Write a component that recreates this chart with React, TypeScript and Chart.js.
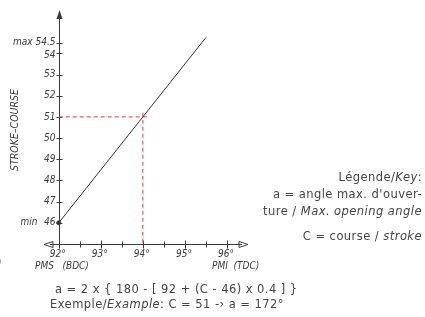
import React, { useEffect, useRef } from "react";
import { Chart, registerables } from "chart.js";

Chart.register(...registerables);

const strokeValues = [46, 47, 48, 49, 50, 51, 52, 53, 54, 54.5];
const angleTicks = [92, 92.5, 93, 93.5, 94, 94.5, 95, 95.5, 96];
const angleLabels = [92, 93, 94, 95, 96];
const lineAngles = [92, 95.5];
const lineStrokes = [46, 54.75];
const exampleStroke = 51;
const exampleAngle = 94;

const TICK_FONT = "italic 10px 'DejaVu Sans Condensed', 'Liberation Sans Narrow', 'DejaVu Sans', sans-serif";
const INK = "#3a3a3a";

const axesPlugin = {
  id: "drawnAxes",
  beforeDatasetsDraw(chart: any) {
    const ctx = chart.ctx;
    const xs = chart.scales.x;
    const ys = chart.scales.y;
    const ca = chart.chartArea;
    const x0 = Math.round(xs.getPixelForValue(92)) + 0.5;
    const y0 = Math.round(ys.getPixelForValue(45)) + 0.5;
    ctx.save();
    ctx.strokeStyle = INK;
    ctx.fillStyle = INK;
    ctx.lineWidth = 1;
    ctx.beginPath();
    ctx.moveTo(x0, y0);
    ctx.lineTo(x0, ca.top + 6);
    ctx.moveTo(ca.left + 6, y0);
    ctx.lineTo(ca.right - 6, y0);
    ctx.stroke();
    ctx.beginPath();
    ctx.moveTo(x0, ca.top - 1);
    ctx.lineTo(x0 - 3, ca.top + 8);
    ctx.lineTo(x0 + 3, ca.top + 8);
    ctx.closePath();
    ctx.fill();
    ctx.beginPath();
    ctx.moveTo(ca.right, y0);
    ctx.lineTo(ca.right - 9, y0 - 3);
    ctx.lineTo(ca.right - 9, y0 + 3);
    ctx.closePath();
    ctx.stroke();
    ctx.beginPath();
    ctx.moveTo(ca.left, y0);
    ctx.lineTo(ca.left + 9, y0 - 3);
    ctx.lineTo(ca.left + 9, y0 + 3);
    ctx.closePath();
    ctx.stroke();
    ctx.font = TICK_FONT;
    ctx.textAlign = "right";
    ctx.textBaseline = "middle";
    ctx.beginPath();
    strokeValues.forEach((v) => {
      const py = Math.round(ys.getPixelForValue(v)) + 0.5;
      ctx.moveTo(x0 - 3, py);
      ctx.lineTo(x0 + 3, py);
    });
    angleTicks.forEach((v) => {
      const px = Math.round(xs.getPixelForValue(v)) + 0.5;
      const h = Number.isInteger(v) ? 4 : 3;
      ctx.moveTo(px, y0 - h);
      ctx.lineTo(px, y0 + h);
    });
    ctx.stroke();
    strokeValues.forEach((v) => {
      const py = ys.getPixelForValue(v);
      const label = v === 54.5 ? "54.5" : String(v);
      ctx.fillText(label, x0 - 4, v === 54 ? py + 2 : py);
    });
    ctx.fillText("max", x0 - 27, ys.getPixelForValue(54.5));
    ctx.fillText("min", x0 - 22, ys.getPixelForValue(46));
    ctx.textAlign = "center";
    ctx.textBaseline = "top";
    angleLabels.forEach((v) => {
      ctx.fillText(v + "°", xs.getPixelForValue(v) - 1, y0 + 5);
    });
    ctx.textAlign = "left";
    ctx.fillText("PMS   (BDC)", 35, y0 + 17);
    ctx.fillText("PMI  (TDC)", 212, y0 + 17);
    ctx.save();
    ctx.translate(15, 130);
    ctx.rotate(-Math.PI / 2);
    ctx.textAlign = "center";
    ctx.textBaseline = "middle";
    ctx.font = "italic 10.5px 'DejaVu Sans Condensed', 'Liberation Sans Narrow', 'DejaVu Sans', sans-serif";
    ctx.fillText("STROKE–COURSE", 0, 0);
    ctx.restore();
    ctx.restore();
  },
};

export default function App() {
  const ref = useRef<HTMLCanvasElement>(null);
  useEffect(() => {
    const canvas = ref.current;
    if (!canvas) return;
    const chart = new Chart(canvas, {
      type: "scatter",
      data: {
        datasets: [
          {
            data: lineAngles.map((a, i) => ({ x: a, y: lineStrokes[i] })),
            showLine: true,
            borderColor: "#333",
            backgroundColor: "#333",
            borderWidth: 1,
            pointRadius: [2, 0],
            order: 0,
          },
          {
            data: [
              { x: 92, y: exampleStroke },
              { x: exampleAngle + 0.15, y: exampleStroke },
            ],
            showLine: true,
            borderColor: "#f25a5a",
            borderWidth: 1.2,
            borderDash: [4, 3],
            pointRadius: 0,
            order: 1,
          },
          {
            data: [
              { x: exampleAngle, y: exampleStroke + 0.2 },
              { x: exampleAngle, y: 45 },
            ],
            showLine: true,
            borderColor: "#f25a5a",
            borderWidth: 1.2,
            borderDash: [4, 3],
            pointRadius: 0,
            order: 1,
          },
        ],
      },
      options: {
        animation: false,
        responsive: false,
        layout: { padding: { left: 44, right: 177, top: 11, bottom: 73 } },
        plugins: { legend: { display: false }, tooltip: { enabled: false } },
        scales: {
          x: { type: "linear", min: 91.65, max: 96.5, display: false },
          y: { type: "linear", min: 45, max: 56, display: false },
        },
      },
      plugins: [axesPlugin],
    });
    return () => chart.destroy();
  }, []);

  const txt: React.CSSProperties = {
    position: "absolute",
    fontFamily: "'DejaVu Sans', Verdana, sans-serif",
    fontSize: "11.5px",
    letterSpacing: "0.45px",
    color: "#444",
    whiteSpace: "nowrap",
    lineHeight: "13px",
  };
  const right: React.CSSProperties = { ...txt, right: 3, textAlign: "right" };

  return (
    <div style={{ position: "fixed", left: 0, top: 0, width: 425, height: 317, background: "#fff", overflow: "hidden" }}>
      <canvas ref={ref} width={425} height={317} style={{ position: "absolute", left: 0, top: 0 }} />
      <div style={{ ...right, top: 171 }}>Légende/<i>Key</i>:</div>
      <div style={{ ...right, top: 188 }}>a = angle max. d'ouver-</div>
      <div style={{ ...right, top: 205 }}>ture / <i>Max. opening angle</i></div>
      <div style={{ ...right, top: 230 }}>C = course / <i>stroke</i></div>
      <div style={{ ...txt, left: 55, top: 283 }}>a = 2 x {"{"} 180 - [ 92 + (C - 46) x 0.4 ] {"}"}</div>
      <div style={{ ...txt, left: 50, top: 298 }}>Exemple/<i>Example</i>: C = 51 -› a = 172°</div>
      <div style={{ ...txt, left: -3, top: 256 }}>)</div>
    </div>
  );
}
